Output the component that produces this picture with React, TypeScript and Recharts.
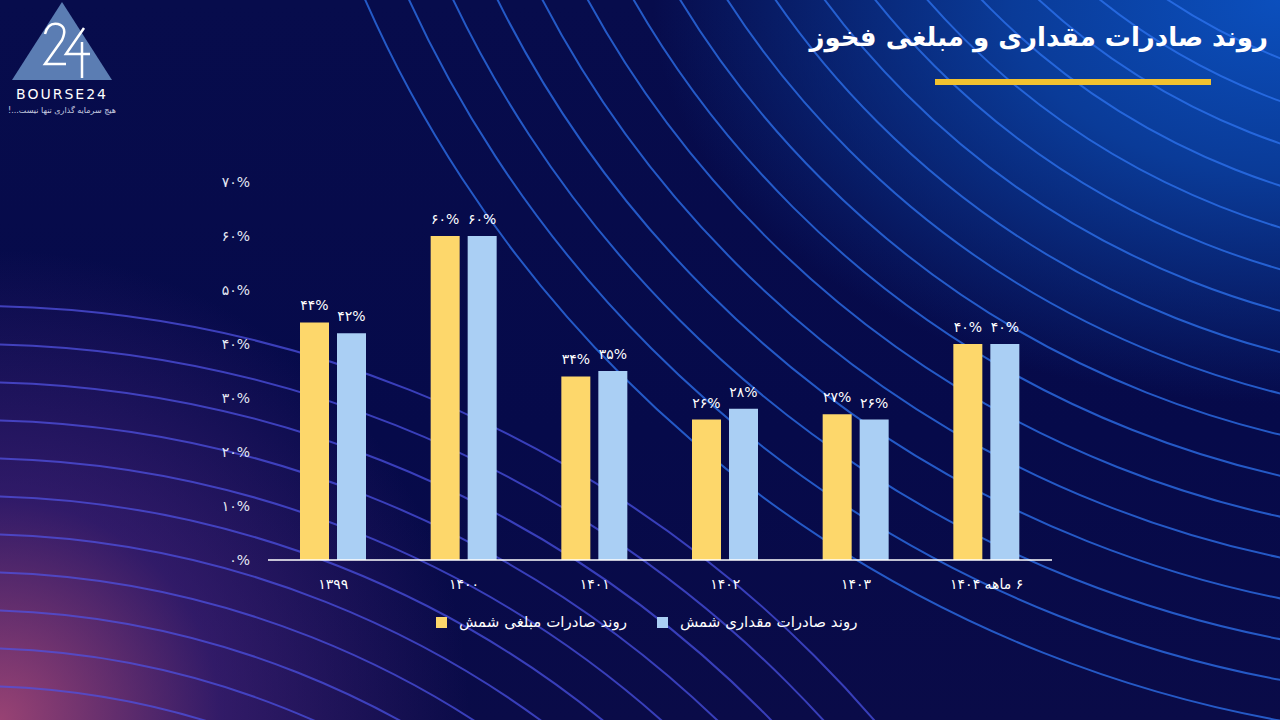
import React from "react";
import { BarChart, Bar, XAxis, YAxis, LabelList } from "recharts";

const categories = ["۱۳۹۹", "۱۴۰۰", "۱۴۰۱", "۱۴۰۲", "۱۴۰۳", "۶ ماهه ۱۴۰۴"];
const valueExports = [44, 60, 34, 26, 27, 40]; // روند صادرات مبلغی شمش
const volumeExports = [42, 60, 35, 28, 26, 40]; // روند صادرات مقداری شمش
const yTicks = [0, 10, 20, 30, 40, 50, 60, 70];

const seriesNames = {
  value: "روند صادرات مبلغی شمش",
  volume: "روند صادرات مقداری شمش",
};

const YELLOW = "#FDD76B";
const BLUE = "#AACFF4";
const FONT = "'DejaVu Sans', sans-serif";

const data = categories.map((name, i) => ({
  name,
  value: valueExports[i],
  volume: volumeExports[i],
}));

const faDigits = (s: string | number) =>
  String(s).replace(/\d/g, (d) => "۰۱۲۳۴۵۶۷۸۹"[Number(d)]);

const pct = (v: any) => faDigits(v) + "%";

function CategoryTick(props: any) {
  const { x, y, payload } = props;
  return (
    <text
      x={x}
      y={y + 21}
      textAnchor="middle"
      direction="rtl"
      fill="#ffffff"
      fontSize={14}
      fontFamily={FONT}
    >
      {payload.value}
    </text>
  );
}

// decorative wave lines behind the chart
function Background() {
  const right = [];
  for (let r = 600; r <= 1240; r += 40) right.push(r);
  const left = [];
  for (let r = 700; r <= 1210; r += 38) left.push(r);
  return (
    <svg width={1280} height={720} style={{ position: "absolute", left: 0, top: 0 }}>
      <defs>
        <linearGradient id="leftStroke" x1="0" y1="1" x2="1" y2="0">
          <stop offset="0%" stopColor="#e070b0" />
          <stop offset="30%" stopColor="#7a55e0" />
          <stop offset="100%" stopColor="#3a4ee0" />
        </linearGradient>
      </defs>
      {right.map((r) => (
        <circle key={"r" + r} cx={1500} cy={-500} r={r} fill="none" stroke="#2f74f0" strokeOpacity={0.75} strokeWidth={2} />
      ))}
      {left.map((r) => (
        <circle key={"l" + r} cx={-30} cy={1500} r={r} fill="none" stroke="url(#leftStroke)" strokeOpacity={0.75} strokeWidth={2} />
      ))}
    </svg>
  );
}

function Logo() {
  return (
    <svg width={160} height={120} style={{ position: "absolute", left: 0, top: 0 }}>
      <polygon points="62,2 12,80 112,80" fill="#5b7db3" />
      <path d="M45 34 Q48 22 58 24 Q68 27 62 40 L45 64 L66 64" fill="none" stroke="#ffffff" strokeWidth={2.5} />
      <path d="M84 28 L66 54 L90 54 M82 42 L82 78" fill="none" stroke="#ffffff" strokeWidth={2.5} />
      <text x={62} y={99} textAnchor="middle" fill="#ffffff" fontSize={14} fontFamily={FONT} letterSpacing={2}>
        BOURSE24
      </text>
      <text x={62} y={113} textAnchor="middle" direction="rtl" fill="#c8cde0" fontSize={8} fontFamily={FONT}>
        هیچ سرمایه گذاری تنها نیست...!
      </text>
    </svg>
  );
}

export default function App() {
  return (
    <div
      style={{
        position: "absolute",
        left: 0,
        top: 0,
        width: 1280,
        height: 720,
        overflow: "hidden",
        fontFamily: FONT,
        background:
          "radial-gradient(circle at 0% 100%, rgba(200,85,130,0.75) 0%, rgba(110,50,150,0.4) 15%, rgba(40,20,100,0) 32%), radial-gradient(ellipse 70% 80% at 100% 0%, #0b4fbd 0%, #0a3b98 30%, rgba(8,20,90,0) 70%), linear-gradient(180deg, #070c4c 0%, #060a4a 60%, #0a0b48 100%)",
      }}
    >
      <Background />
      <Logo />
      <div
        dir="rtl"
        style={{
          position: "absolute",
          right: 12,
          top: 22,
          color: "#ffffff",
          fontSize: 26,
          fontWeight: "bold",
          whiteSpace: "nowrap",
        }}
      >
        روند صادرات مقداری و مبلغی فخوز
      </div>
      <div style={{ position: "absolute", left: 935, top: 79, width: 276, height: 6, background: "#F2C230" }} />

      <div style={{ position: "absolute", left: 0, top: 0 }}>
        <BarChart
          width={1280}
          height={720}
          data={data}
          margin={{ top: 182, right: 228, bottom: 120, left: 208 }}
          barGap={8}
          barCategoryGap={32}
        >
          <XAxis
            dataKey="name"
            axisLine={{ stroke: "#ffffff", strokeWidth: 1.5 }}
            tickLine={false}
            height={40}
            tick={<CategoryTick />}
            interval={0}
          />
          <YAxis
            domain={[0, 70]}
            ticks={yTicks}
            axisLine={false}
            tickLine={false}
            tickSize={0}
            tickMargin={18}
            width={60}
            tickFormatter={pct}
            tick={{ fill: "#e4e8f4", fontSize: 14, fontFamily: FONT }}
          />
          <Bar dataKey="value" name={seriesNames.value} fill={YELLOW} barSize={29} isAnimationActive={false}>
            <LabelList dataKey="value" position="top" offset={12} formatter={pct} fill="#ffffff" fontSize={14} fontFamily={FONT} />
          </Bar>
          <Bar dataKey="volume" name={seriesNames.volume} fill={BLUE} barSize={29} isAnimationActive={false}>
            <LabelList dataKey="volume" position="top" offset={12} formatter={pct} fill="#ffffff" fontSize={14} fontFamily={FONT} />
          </Bar>
        </BarChart>
      </div>

      {/* Legend */}
      <div style={{ position: "absolute", left: 436, top: 613, display: "flex", alignItems: "center", color: "#ffffff", fontSize: 15 }}>
        {[
          { name: seriesNames.value, color: YELLOW },
          { name: seriesNames.volume, color: BLUE },
        ].map((item) => (
          <div key={item.name} style={{ display: "flex", alignItems: "center", marginRight: 30 }}>
            <div style={{ width: 11, height: 11, background: item.color, marginRight: 12 }} />
            <span dir="rtl">{item.name}</span>
          </div>
        ))}
      </div>
    </div>
  );
}
